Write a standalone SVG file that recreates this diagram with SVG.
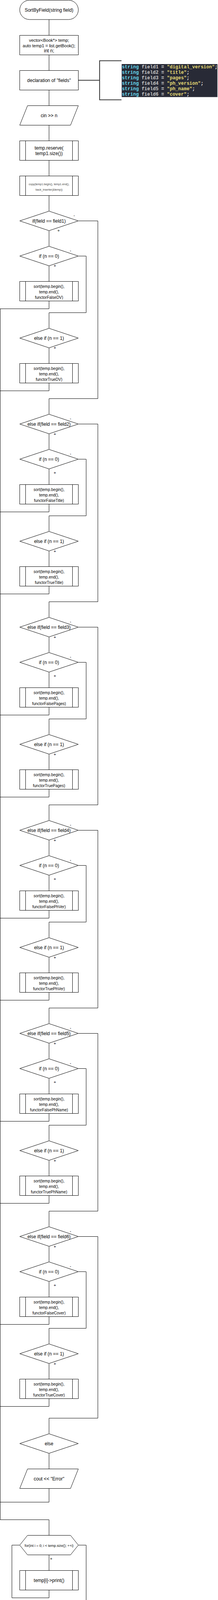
<svg xmlns="http://www.w3.org/2000/svg" width="558" height="4292" viewBox="0 0 558 4292">
<style>
.s{fill:#fff;stroke:#000;stroke-width:1}
.c{fill:none;stroke:#000;stroke-width:1}
.t{font-family:"Liberation Sans",Arial,sans-serif;font-size:12px;fill:#000;text-anchor:middle;dominant-baseline:central}
.t11{font-size:11px}
.t10{font-size:10px}
.t9{font-size:9px}
.t7{font-size:7px;fill:#444}
.lbl{font-family:"Liberation Sans",Arial,sans-serif;font-size:10px;fill:#000;text-anchor:middle;dominant-baseline:central}
.code{font-family:"Liberation Mono","Courier New",monospace;font-size:12px;font-weight:bold}
.kw{fill:#66d9ef}.id{fill:#c8c8c8}.op{fill:#f8f8f2}.str{fill:#e6db74}
</style>
<rect width="558" height="4292" fill="#fff"/>

<g id="connectors">
<path class="c" d="M125.5,50V90M125.5,140V180M125.5,230V270M125.5,320V360M125.5,410V450M125.5,500V540"/>
<path d="M200,205.5H255M311,155.5H255V255.5H311" fill="none" stroke="#333" stroke-width="2"/>
<!-- block 1 -->
<path class="c" d="M125.5,590V630M125.5,680V720M125.5,770V790.5H0.5M200,655.5H220.5V800.5H125.5V840M125.5,890V930M125.5,980V1000.5H0.5M200,565.5H250.5V1020.5H125.5V1060"/>
<!-- block 2 -->
<path class="c" d="M125.5,1110V1150M125.5,1200V1240M125.5,1290V1310.5H0.5M200,1175.5H220.5V1320.5H125.5V1360M125.5,1410V1450M125.5,1500V1520.5H0.5M200,1085.5H250.5V1540.5H125.5V1580"/>
<!-- block 3 -->
<path class="c" d="M125.5,1630V1670M125.5,1720V1760M125.5,1810V1830.5H0.5M200,1695.5H220.5V1840.5H125.5V1880M125.5,1930V1970M125.5,2020V2040.5H0.5M200,1605.5H250.5V2060.5H125.5V2100"/>
<!-- block 4 -->
<path class="c" d="M125.5,2150V2190M125.5,2240V2280M125.5,2330V2350.5H0.5M200,2215.5H220.5V2360.5H125.5V2400M125.5,2450V2490M125.5,2540V2560.5H0.5M200,2125.5H250.5V2580.5H125.5V2620"/>
<!-- block 5 -->
<path class="c" d="M125.5,2670V2710M125.5,2760V2800M125.5,2850V2870.5H0.5M200,2735.5H220.5V2880.5H125.5V2920M125.5,2970V3010M125.5,3060V3080.5H0.5M200,2645.5H250.5V3100.5H125.5V3140"/>
<!-- block 6 -->
<path class="c" d="M125.5,3190V3230M125.5,3280V3320M125.5,3370V3390.5H0.5M200,3255.5H220.5V3400.5H125.5V3440M125.5,3490V3530M125.5,3580V3600.5H0.5M200,3165.5H250.5V3630.5H125.5V3670"/>
<!-- else / tail -->
<path class="c" d="M125.5,3720V3760M125.5,3810V3845.5H0.5M0.5,790V3890.5H125.5V3930"/>
<path class="c" d="M125.5,3980V4020M125.5,4070V4090.5H30.5V3955.5H50M200,3955.5H220.5V4110.5H125.5V4150M125.5,4200V4240"/>
</g>

<g id="start">
<rect class="s" x="50.5" y="0.5" width="150" height="49.5" rx="25" ry="24.75"/>
<text class="t" x="125.5" y="25.5">SortByField(string field)</text>
</g>
<g id="vars">
<rect class="s" x="50.5" y="90.5" width="150" height="50"/>
<text class="t t11" x="125.5" y="102.5">vector&lt;Book*&gt; temp;</text>
<text class="t t11" x="125.5" y="116.5">auto temp1 = list.getBook();</text>
<text class="t" x="125.5" y="130">int n;</text>
</g>
<g id="decl">
<rect class="s" x="50.5" y="180.5" width="150" height="50"/>
<text class="t" x="125.5" y="205.5">declaration of "fields"</text>
</g>
<g id="code">
<rect x="311.5" y="164" width="245" height="84.5" fill="#282a36"/>
<text class="code" x="312" y="175"><tspan class="kw">string</tspan><tspan class="id"> field1 </tspan><tspan class="op">= </tspan><tspan class="str">"digital_version"</tspan><tspan class="op">;</tspan></text>
<text class="code" x="312" y="189"><tspan class="kw">string</tspan><tspan class="id"> field2 </tspan><tspan class="op">= </tspan><tspan class="str">"title"</tspan><tspan class="op">;</tspan></text>
<text class="code" x="312" y="203"><tspan class="kw">string</tspan><tspan class="id"> field3 </tspan><tspan class="op">= </tspan><tspan class="str">"pages"</tspan><tspan class="op">;</tspan></text>
<text class="code" x="312" y="217"><tspan class="kw">string</tspan><tspan class="id"> field4 </tspan><tspan class="op">= </tspan><tspan class="str">"ph_version"</tspan><tspan class="op">;</tspan></text>
<text class="code" x="312" y="231"><tspan class="kw">string</tspan><tspan class="id"> field5 </tspan><tspan class="op">= </tspan><tspan class="str">"ph_name"</tspan><tspan class="op">;</tspan></text>
<text class="code" x="312" y="245"><tspan class="kw">string</tspan><tspan class="id"> field6 </tspan><tspan class="op">= </tspan><tspan class="str">"cover"</tspan><tspan class="op">;</tspan></text>
</g>
<g id="input">
<polygon class="s" points="70.5,270.5 200.5,270.5 180.5,320.5 50.5,320.5"/>
<text class="t" x="125.5" y="295.5">cin &gt;&gt; n</text>
</g>
<g id="reserve">
<rect class="s" x="50.5" y="360.5" width="150" height="50"/><path class="c" d="M65.5,360.5V410.5M185.5,360.5V410.5"/>
<text class="t" x="125.5" y="379">temp.reserve(</text>
<text class="t" x="125.5" y="393">temp1.size())</text>
</g>
<g id="copy">
<rect class="s" x="50.5" y="450.5" width="150" height="50"/><path class="c" d="M65.5,450.5V500.5M185.5,450.5V500.5"/>
<text class="t t7" x="125.5" y="471">copy(temp1.begin(), temp1.end(),</text>
<text class="t t7" x="125.5" y="485">back_inserter(&amp;temp))</text>
</g>

<!-- Block 1 -->
<g id="if-field1">
<polygon class="s" points="50.5,565.5 125.5,540.5 200.5,565.5 125.5,590.5"/>
<text class="t" x="125.5" y="565.5">if(field == field1)</text>
<text class="lbl" x="190" y="551">-</text><text class="lbl" x="150" y="590">+</text>
</g>
<g id="n0-1">
<polygon class="s" points="50.5,655.5 125.5,630.5 200.5,655.5 125.5,680.5"/>
<text class="t" x="125.5" y="655.5">if (n == 0)</text>
<text class="lbl" x="180.5" y="641">-</text><text class="lbl" x="140.5" y="680">+</text>
</g>
<g id="sortF-1">
<rect class="s" x="50.5" y="720.5" width="150" height="50"/><path class="c" d="M65.5,720.5V770.5M185.5,720.5V770.5"/>
<text class="t t10" x="125.5" y="733.8">sort(temp.begin(),</text><text class="t t10" x="125.5" y="747.8">temp.end(),</text><text class="t t10" x="125.5" y="761.8">functorFalseDV)</text>
</g>
<g id="n1-1">
<polygon class="s" points="50.5,865.5 125.5,840.5 200.5,865.5 125.5,890.5"/>
<text class="t" x="125.5" y="865.5">else if (n == 1)</text>
<text class="lbl" x="140.5" y="890">+</text>
</g>
<g id="sortT-1">
<rect class="s" x="50.5" y="930.5" width="150" height="50"/><path class="c" d="M65.5,930.5V980.5M185.5,930.5V980.5"/>
<text class="t t10" x="125.5" y="943.8">sort(temp.begin(),</text><text class="t t10" x="125.5" y="957.8">temp.end(),</text><text class="t t10" x="125.5" y="971.8">functorTrueDV)</text>
</g>

<!-- Block 2 -->
<g id="if-field2">
<polygon class="s" points="50.5,1085.5 125.5,1060.5 200.5,1085.5 125.5,1110.5"/>
<text class="t" x="125.5" y="1085.5">else if(field == field2)</text>
<text class="lbl" x="180.5" y="1071">-</text><text class="lbl" x="140.5" y="1111">+</text>
</g>
<g id="n0-2">
<polygon class="s" points="50.5,1175.5 125.5,1150.5 200.5,1175.5 125.5,1200.5"/>
<text class="t" x="125.5" y="1175.5">if (n == 0)</text>
<text class="lbl" x="180.5" y="1161">-</text><text class="lbl" x="140.5" y="1210">+</text>
</g>
<g id="sortF-2">
<rect class="s" x="50.5" y="1240.5" width="150" height="50"/><path class="c" d="M65.5,1240.5V1290.5M185.5,1240.5V1290.5"/>
<text class="t t10" x="125.5" y="1253.8">sort(temp.begin(),</text><text class="t t10" x="125.5" y="1267.8">temp.end(),</text><text class="t t10" x="125.5" y="1281.8">functorFalseTitle)</text>
</g>
<g id="n1-2">
<polygon class="s" points="50.5,1385.5 125.5,1360.5 200.5,1385.5 125.5,1410.5"/>
<text class="t" x="125.5" y="1385.5">else if (n == 1)</text>
<text class="lbl" x="140.5" y="1411">+</text>
</g>
<g id="sortT-2">
<rect class="s" x="50.5" y="1450.5" width="150" height="50"/><path class="c" d="M65.5,1450.5V1500.5M185.5,1450.5V1500.5"/>
<text class="t t10" x="125.5" y="1463.8">sort(temp.begin(),</text><text class="t t10" x="125.5" y="1477.8">temp.end(),</text><text class="t t10" x="125.5" y="1491.8">functorTrueTitle)</text>
</g>

<!-- Block 3 -->
<g id="if-field3">
<polygon class="s" points="50.5,1605.5 125.5,1580.5 200.5,1605.5 125.5,1630.5"/>
<text class="t" x="125.5" y="1605.5">else if(field == field3)</text>
<text class="lbl" x="180.5" y="1591">-</text><text class="lbl" x="140.5" y="1631">+</text>
</g>
<g id="n0-3">
<polygon class="s" points="50.5,1695.5 125.5,1670.5 200.5,1695.5 125.5,1720.5"/>
<text class="t" x="125.5" y="1695.5">if (n == 0)</text>
<text class="lbl" x="180.5" y="1681">-</text><text class="lbl" x="140.5" y="1730">+</text>
</g>
<g id="sortF-3">
<rect class="s" x="50.5" y="1760.5" width="150" height="50"/><path class="c" d="M65.5,1760.5V1810.5M185.5,1760.5V1810.5"/>
<text class="t t10" x="125.5" y="1773.8">sort(temp.begin(),</text><text class="t t10" x="125.5" y="1787.8">temp.end(),</text><text class="t t10" x="125.5" y="1801.8">functorFalsePages)</text>
</g>
<g id="n1-3">
<polygon class="s" points="50.5,1905.5 125.5,1880.5 200.5,1905.5 125.5,1930.5"/>
<text class="t" x="125.5" y="1905.5">else if (n == 1)</text>
<text class="lbl" x="140.5" y="1931">+</text>
</g>
<g id="sortT-3">
<rect class="s" x="50.5" y="1970.5" width="150" height="50"/><path class="c" d="M65.5,1970.5V2020.5M185.5,1970.5V2020.5"/>
<text class="t t10" x="125.5" y="1983.8">sort(temp.begin(),</text><text class="t t10" x="125.5" y="1997.8">temp.end(),</text><text class="t t10" x="125.5" y="2011.8">functorTruePages)</text>
</g>

<!-- Block 4 -->
<g id="if-field4">
<polygon class="s" points="50.5,2125.5 125.5,2100.5 200.5,2125.5 125.5,2150.5"/>
<text class="t" x="125.5" y="2125.5">else if(field == field4)</text>
<text class="lbl" x="180.5" y="2111">-</text><text class="lbl" x="140.5" y="2151">+</text>
</g>
<g id="n0-4">
<polygon class="s" points="50.5,2215.5 125.5,2190.5 200.5,2215.5 125.5,2240.5"/>
<text class="t" x="125.5" y="2215.5">if (n == 0)</text>
<text class="lbl" x="180.5" y="2201">-</text><text class="lbl" x="140.5" y="2250">+</text>
</g>
<g id="sortF-4">
<rect class="s" x="50.5" y="2280.5" width="150" height="50"/><path class="c" d="M65.5,2280.5V2330.5M185.5,2280.5V2330.5"/>
<text class="t t10" x="125.5" y="2293.8">sort(temp.begin(),</text><text class="t t10" x="125.5" y="2307.8">temp.end(),</text><text class="t t10" x="125.5" y="2321.8">functorFalsePhVer)</text>
</g>
<g id="n1-4">
<polygon class="s" points="50.5,2425.5 125.5,2400.5 200.5,2425.5 125.5,2450.5"/>
<text class="t" x="125.5" y="2425.5">else if (n == 1)</text>
<text class="lbl" x="140.5" y="2451">+</text>
</g>
<g id="sortT-4">
<rect class="s" x="50.5" y="2490.5" width="150" height="50"/><path class="c" d="M65.5,2490.5V2540.5M185.5,2490.5V2540.5"/>
<text class="t t10" x="125.5" y="2503.8">sort(temp.begin(),</text><text class="t t10" x="125.5" y="2517.8">temp.end(),</text><text class="t t10" x="125.5" y="2531.8">functorTruePhVer)</text>
</g>

<!-- Block 5 -->
<g id="if-field5">
<polygon class="s" points="50.5,2645.5 125.5,2620.5 200.5,2645.5 125.5,2670.5"/>
<text class="t" x="125.5" y="2645.5">else if(field == field5)</text>
<text class="lbl" x="180.5" y="2631">-</text><text class="lbl" x="140.5" y="2671">+</text>
</g>
<g id="n0-5">
<polygon class="s" points="50.5,2735.5 125.5,2710.5 200.5,2735.5 125.5,2760.5"/>
<text class="t" x="125.5" y="2735.5">if (n == 0)</text>
<text class="lbl" x="180.5" y="2721">-</text><text class="lbl" x="140.5" y="2770">+</text>
</g>
<g id="sortF-5">
<rect class="s" x="50.5" y="2800.5" width="150" height="50"/><path class="c" d="M65.5,2800.5V2850.5M185.5,2800.5V2850.5"/>
<text class="t t10" x="125.5" y="2813.8">sort(temp.begin(),</text><text class="t t10" x="125.5" y="2827.8">temp.end(),</text><text class="t t10" x="125.5" y="2841.8">functorFalsePhName)</text>
</g>
<g id="n1-5">
<polygon class="s" points="50.5,2945.5 125.5,2920.5 200.5,2945.5 125.5,2970.5"/>
<text class="t" x="125.5" y="2945.5">else if (n == 1)</text>
<text class="lbl" x="140.5" y="2971">+</text>
</g>
<g id="sortT-5">
<rect class="s" x="50.5" y="3010.5" width="150" height="50"/><path class="c" d="M65.5,3010.5V3060.5M185.5,3010.5V3060.5"/>
<text class="t t10" x="125.5" y="3023.8">sort(temp.begin(),</text><text class="t t10" x="125.5" y="3037.8">temp.end(),</text><text class="t t10" x="125.5" y="3051.8">functorTruePhName)</text>
</g>

<!-- Block 6 -->
<g id="if-field6">
<polygon class="s" points="50.5,3165.5 125.5,3140.5 200.5,3165.5 125.5,3190.5"/>
<text class="t" x="125.5" y="3165.5">else if(field == field6)</text>
<text class="lbl" x="180.5" y="3151">-</text><text class="lbl" x="140.5" y="3191">+</text>
</g>
<g id="n0-6">
<polygon class="s" points="50.5,3255.5 125.5,3230.5 200.5,3255.5 125.5,3280.5"/>
<text class="t" x="125.5" y="3255.5">if (n == 0)</text>
<text class="lbl" x="180.5" y="3241">-</text><text class="lbl" x="140.5" y="3290">+</text>
</g>
<g id="sortF-6">
<rect class="s" x="50.5" y="3320.5" width="150" height="50"/><path class="c" d="M65.5,3320.5V3370.5M185.5,3320.5V3370.5"/>
<text class="t t10" x="125.5" y="3333.8">sort(temp.begin(),</text><text class="t t10" x="125.5" y="3347.8">temp.end(),</text><text class="t t10" x="125.5" y="3361.8">functorFalseCover)</text>
</g>
<g id="n1-6">
<polygon class="s" points="50.5,3465.5 125.5,3440.5 200.5,3465.5 125.5,3490.5"/>
<text class="t" x="125.5" y="3465.5">else if (n == 1)</text>
<text class="lbl" x="140.5" y="3491">+</text>
</g>
<g id="sortT-6">
<rect class="s" x="50.5" y="3530.5" width="150" height="50"/><path class="c" d="M65.5,3530.5V3580.5M185.5,3530.5V3580.5"/>
<text class="t t10" x="125.5" y="3543.8">sort(temp.begin(),</text><text class="t t10" x="125.5" y="3557.8">temp.end(),</text><text class="t t10" x="125.5" y="3571.8">functorTrueCover)</text>
</g>

<g id="else">
<polygon class="s" points="50.5,3695.5 125.5,3670.5 200.5,3695.5 125.5,3720.5"/>
<text class="t" x="125.5" y="3695.5">else</text>
</g>
<g id="error">
<polygon class="s" points="70.5,3760.5 200.5,3760.5 180.5,3810.5 50.5,3810.5"/>
<text class="t" x="125.5" y="3785.5">cout &lt;&lt; "Error"</text>
</g>
<g id="for">
<polygon class="s" points="70.5,3930.5 180.5,3930.5 200.5,3955.5 180.5,3980.5 70.5,3980.5 50.5,3955.5"/>
<text class="t t9" x="125.5" y="3956.5">for(int i = 0; i &lt; temp.size(); ++i)</text>
<text class="lbl" x="131" y="3990">+</text>
</g>
<g id="print">
<rect class="s" x="50.5" y="4020.5" width="150" height="50"/><path class="c" d="M65.5,4020.5V4070.5M185.5,4020.5V4070.5"/>
<text class="t" x="125.5" y="4045.5">temp[i]-&gt;print()</text>
</g>
<g id="clear">
<rect class="s" x="50.5" y="4150.5" width="150" height="50"/><path class="c" d="M65.5,4150.5V4200.5M185.5,4150.5V4200.5"/>
<text class="t" x="125.5" y="4168.5">temp.clear();</text>
<text class="t" x="125.5" y="4183">temp.shrink_to_fit();</text>
</g>
<g id="end">
<rect class="s" x="50.5" y="4240.5" width="150" height="50" rx="25" ry="25"/>
<text class="t" x="125.5" y="4265.5">end</text>
</g>
</svg>
